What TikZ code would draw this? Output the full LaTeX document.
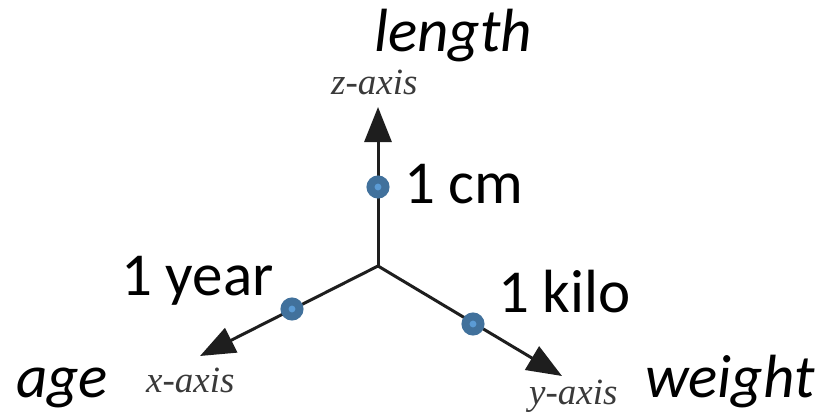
\documentclass[tikz,border=0pt]{standalone}
\usepackage{fontspec}
\setmainfont{Carlito}
\newfontfamily\axfont{Liberation Serif}
\usetikzlibrary{arrows.meta}
\definecolor{dotouter}{HTML}{41719C}
\definecolor{dotinner}{HTML}{5B9BD5}
\definecolor{axline}{HTML}{1E1E1E}
\definecolor{axtext}{HTML}{3A3A3A}
\tikzset{
  axisline/.style={draw=axline, line width=3pt, -{Triangle[length=35pt,width=27pt]}},
  unitdot/.style={circle, fill=dotinner, draw=dotouter, line width=8pt, inner sep=0pt, minimum size=15pt},
  bigtext/.style={inner sep=0pt, anchor=base west, font=\fontsize{61}{61}\selectfont},
  bigital/.style={bigtext, font=\fontsize{61}{61}\selectfont\itshape},
  axlabel/.style={inner sep=0pt, anchor=base west, text=axtext, font=\axfont\itshape\fontsize{37}{37}\selectfont}
}
\begin{document}
\begin{tikzpicture}[x=1pt,y=-1pt]
\useasboundingbox (0,0) rectangle (837,415);
\coordinate (O) at (378,266);
\coordinate (zt) at (378,107);
\coordinate (xt) at (200,356);
\coordinate (yt) at (562,376);
\draw[axisline] (O) -- (zt);
\draw[axisline] (O) -- (xt);
\draw[axisline] (O) -- (yt);
\node[unitdot] (dz) at (378,187) {};
\node[unitdot] (dx) at (292,309) {};
\node[unitdot] (dy) at (473,324) {};
\node[bigtext] (lcm) at (404,203) {1 cm};
\node[bigtext] (lyear) at (121,295) {1 year};
\node[bigtext] (lkilo) at (498,312) {1 kilo};
\node[bigital] (length) at (374,51) {length};
\node[bigital] (age) at (16,397) {age};
\node[bigital] (weight) at (645,397) {weight};
\node[axlabel] (zax) at (331,94) {z-axis};
\node[axlabel] (xax) at (146,392) {x-axis};
\node[axlabel] (yax) at (529,404) {y-axis};
\end{tikzpicture}
\end{document}
